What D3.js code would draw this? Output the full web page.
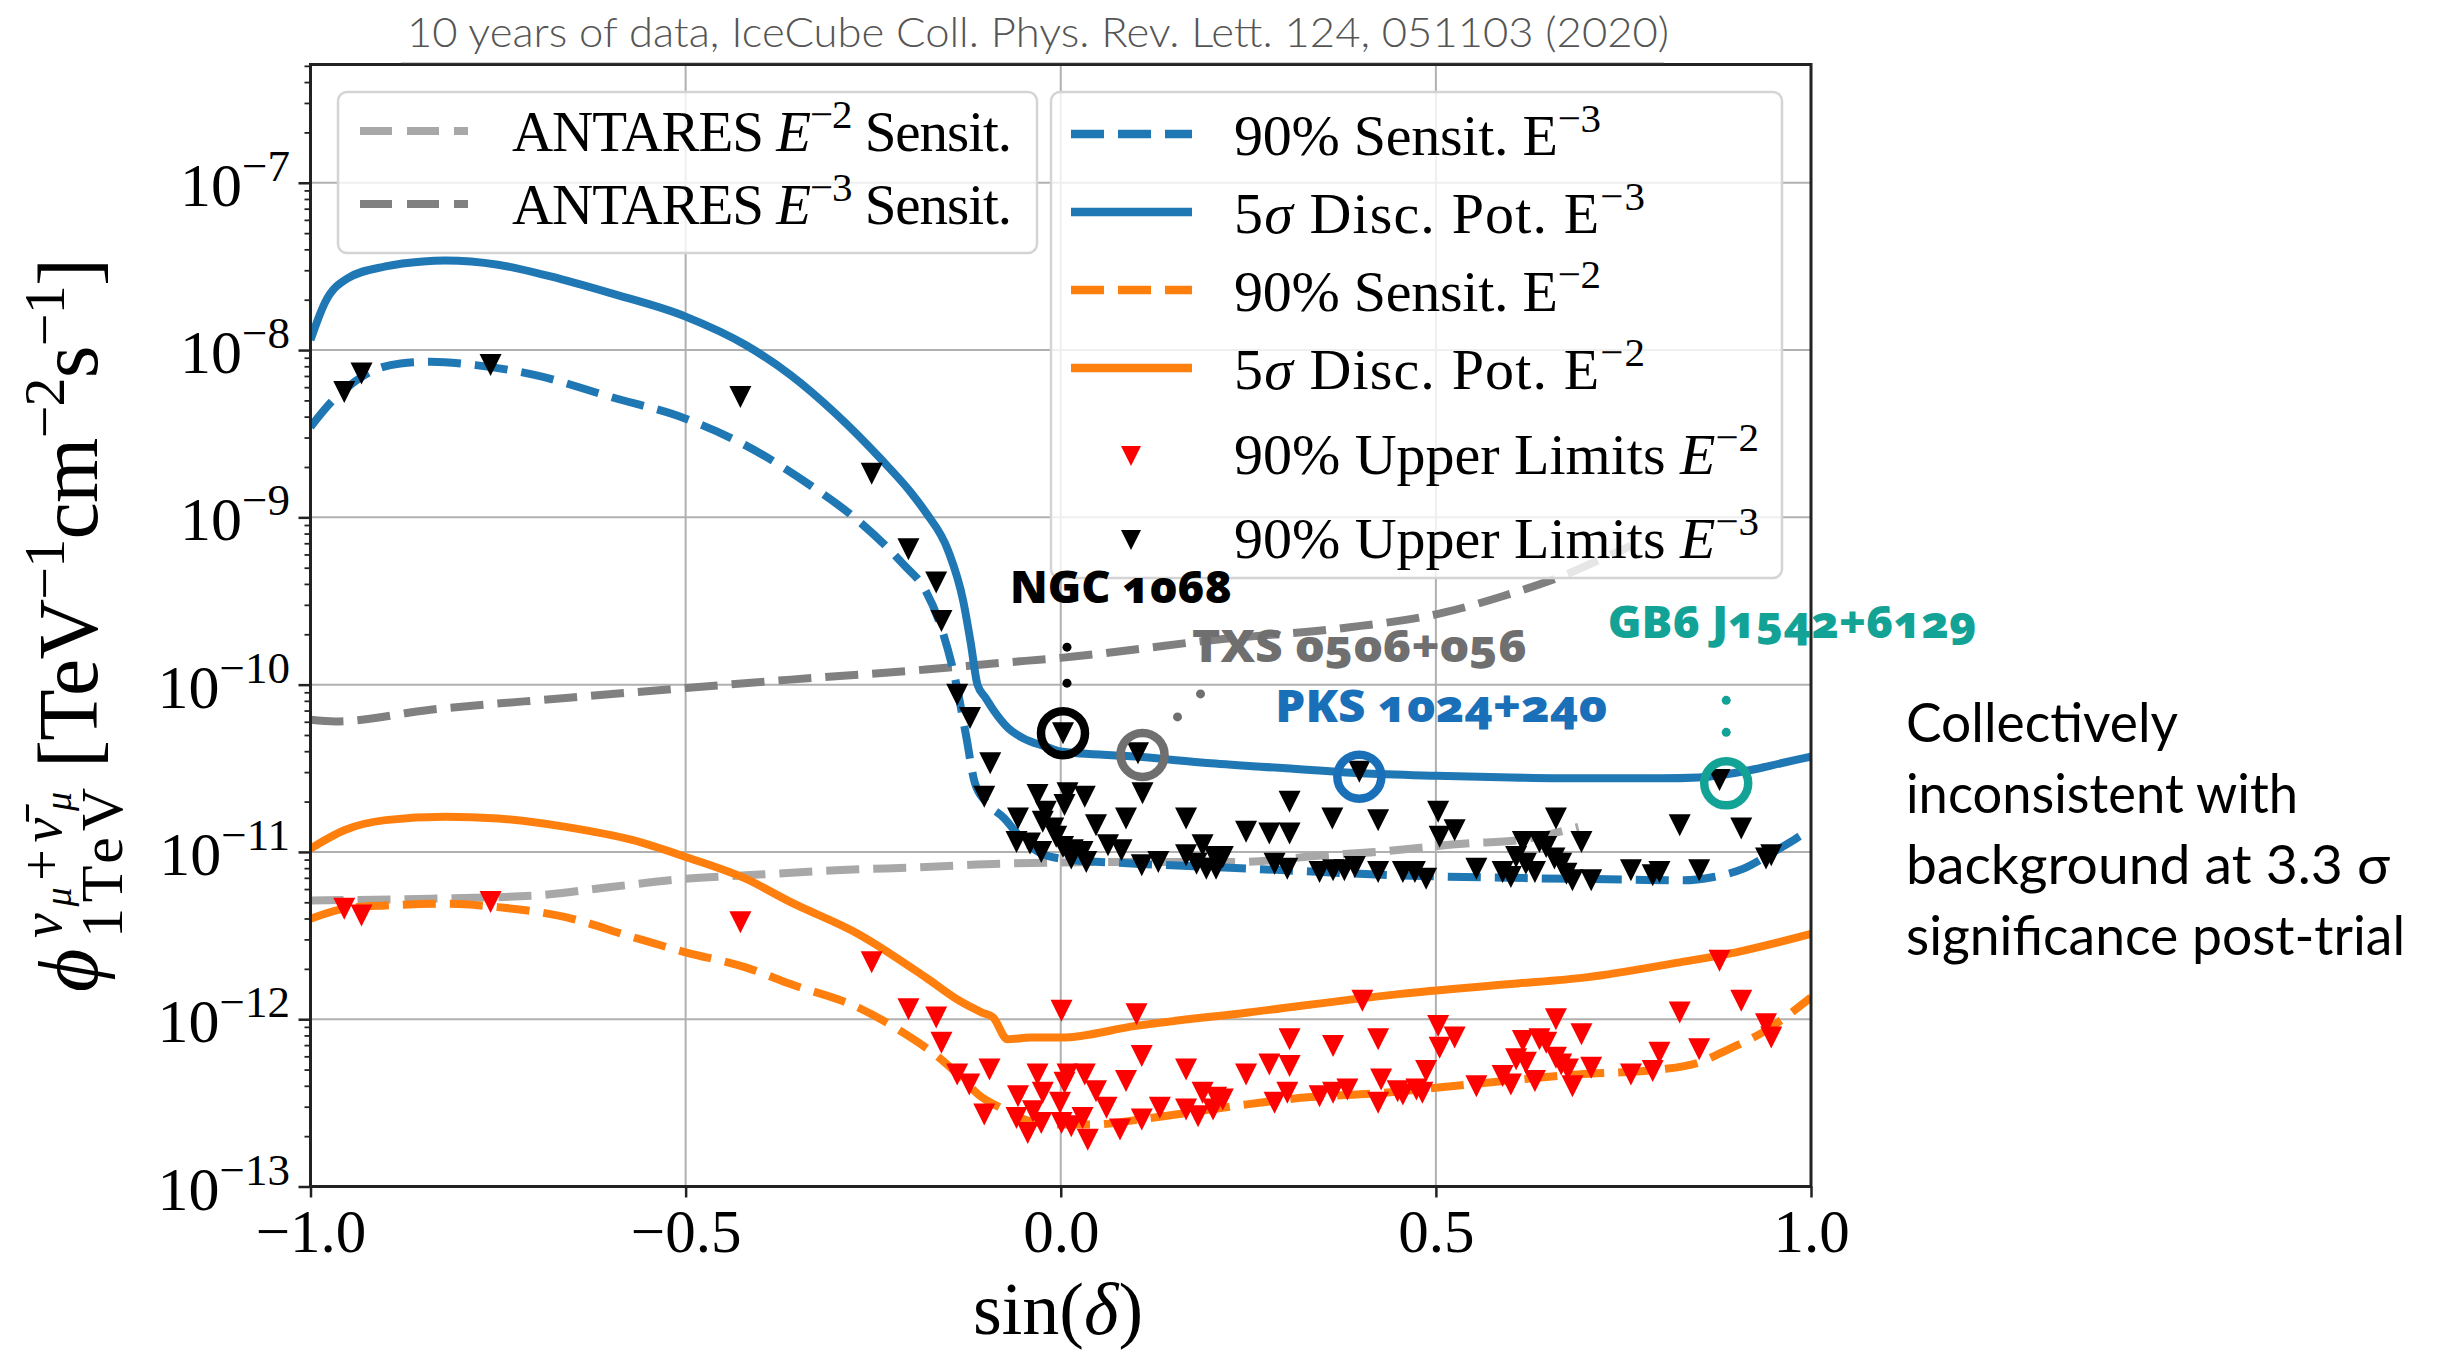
<!DOCTYPE html>
<html><head><meta charset="utf-8">
<script src="https://cdn.jsdelivr.net/npm/d3@7"></script>
<style>body{margin:0;background:#fff;} svg{display:block;}</style>
</head><body>
<svg id="chart" width="2438" height="1354"></svg>
<script>
// ---------------- DATA (flux given as log10 values) ----------------
const xTicks = [-1.0, -0.5, 0.0, 0.5, 1.0];
const yTickExps = [-13, -12, -11, -10, -9, -8, -7];

// 5 sigma discovery potential E^-3 (blue solid)
const disc3Sin = [-1.0,-0.98,-0.95,-0.90,-0.85,-0.82,-0.75,-0.68,-0.60,-0.50,-0.42,-0.36,-0.30,-0.24,-0.20,-0.18,-0.15,-0.13,-0.12,-0.111,-0.10,-0.09,-0.07,-0.05,-0.02,0.0,0.1,0.2,0.3,0.4,0.5,0.6,0.7,0.8,0.85,0.88,0.92,0.96,1.0];
const disc3Log = [-7.94,-7.71,-7.57,-7.50,-7.47,-7.465,-7.49,-7.56,-7.66,-7.80,-7.97,-8.15,-8.38,-8.65,-8.85,-8.97,-9.20,-9.50,-9.75,-10.0,-10.08,-10.15,-10.26,-10.32,-10.37,-10.40,-10.43,-10.47,-10.50,-10.53,-10.545,-10.555,-10.56,-10.56,-10.555,-10.54,-10.51,-10.47,-10.43];
// 90% sensitivity E^-3 (blue dashed)
const sens3Sin = [-1.0,-0.97,-0.95,-0.92,-0.88,-0.84,-0.78,-0.70,-0.60,-0.50,-0.42,-0.33,-0.27,-0.21,-0.18,-0.16,-0.14,-0.126,-0.115,-0.10,-0.075,-0.06,-0.03,0.0,0.1,0.2,0.3,0.45,0.6,0.75,0.83,0.87,0.91,0.95,0.98,1.0];
const sens3Log = [-8.46,-8.30,-8.22,-8.13,-8.08,-8.07,-8.09,-8.15,-8.28,-8.41,-8.57,-8.82,-9.02,-9.28,-9.44,-9.65,-9.98,-10.31,-10.58,-10.70,-10.80,-10.88,-11.0,-11.04,-11.07,-11.09,-11.11,-11.14,-11.155,-11.165,-11.17,-11.15,-11.10,-11.0,-10.92,-10.86];
// 5 sigma discovery potential E^-2 (orange solid)
const disc2Sin = [-1.0,-0.955,-0.90,-0.82,-0.75,-0.66,-0.57,-0.50,-0.42,-0.36,-0.27,-0.18,-0.135,-0.105,-0.09,-0.071,-0.04,0.0,0.1,0.25,0.45,0.6,0.7,0.825,0.9,1.0];
const disc2Log = [-10.98,-10.87,-10.81,-10.79,-10.80,-10.85,-10.93,-11.03,-11.16,-11.30,-11.49,-11.75,-11.89,-11.96,-11.99,-12.12,-12.11,-12.11,-12.04,-11.96,-11.85,-11.79,-11.75,-11.66,-11.60,-11.49];
// 90% sensitivity E^-2 (orange dashed)
const sens2Sin = [-1.0,-0.955,-0.90,-0.82,-0.75,-0.66,-0.57,-0.50,-0.42,-0.36,-0.27,-0.21,-0.165,-0.13,-0.11,-0.08,-0.04,0.0,0.04,0.12,0.23,0.32,0.43,0.5,0.69,0.80,0.85,0.89,0.935,1.0];
const sens2Log = [-11.40,-11.34,-11.32,-11.31,-11.33,-11.39,-11.51,-11.60,-11.69,-11.79,-11.93,-12.08,-12.22,-12.36,-12.45,-12.53,-12.61,-12.63,-12.63,-12.59,-12.52,-12.47,-12.44,-12.41,-12.33,-12.30,-12.26,-12.18,-12.08,-11.87];
// ANTARES E^-2 sensitivity (light grey dashed)
const ant2Sin = [-1.0,-0.84,-0.70,-0.60,-0.50,-0.42,-0.30,-0.18,-0.08,0.10,0.24,0.35,0.42,0.54,0.61,0.69];
const ant2Log = [-11.29,-11.28,-11.26,-11.21,-11.16,-11.14,-11.11,-11.09,-11.07,-11.06,-11.06,-11.02,-11.0,-10.95,-10.93,-10.85];
// ANTARES E^-3 sensitivity (dark grey dashed)
const ant3Sin = [-1.0,-0.967,-0.84,-0.66,-0.50,-0.36,-0.18,-0.08,0.0,0.21,0.38,0.51,0.59,0.68,0.72,0.76];
const ant3Log = [-10.21,-10.22,-10.15,-10.08,-10.02,-9.97,-9.91,-9.87,-9.84,-9.73,-9.66,-9.57,-9.47,-9.33,-9.25,-9.17];

// 90% upper limits E^-3 (black triangles): [sin(dec), log10 flux]
const ul3 = [
 [-0.955,-8.25],[-0.932,-8.14],[-0.760,-8.09],[-0.427,-8.28],[-0.252,-8.74],[-0.203,-9.19],[-0.166,-9.39],[-0.159,-9.62],
 [-0.138,-10.06],[-0.121,-10.20],[-0.094,-10.47],[-0.102,-10.67],
 [-0.057,-10.80],[-0.031,-10.66],[0.009,-10.65],[0.032,-10.67],[0.005,-10.72],[-0.024,-10.82],[0.047,-10.84],[0.087,-10.80],
 [0.109,-10.65],[0.167,-10.80],[0.305,-10.70],[0.362,-10.80],[0.423,-10.81],[0.247,-10.88],[0.278,-10.89],[0.305,-10.89],
 [-0.059,-10.94],[-0.041,-10.95],[-0.026,-11.0],[-0.006,-10.91],[0.003,-10.97],[0.016,-10.99],[0.029,-11.0],[0.014,-11.04],
 [0.034,-11.06],[0.063,-10.96],[0.081,-10.99],[0.108,-11.08],[0.13,-11.06],[0.167,-11.02],[0.189,-10.96],[0.181,-11.07],
 [0.194,-11.10],[0.205,-11.03],[0.216,-11.03],[0.207,-11.10],[0.285,-11.07],[0.302,-11.10],[0.345,-11.12],[0.363,-11.11],
 [0.378,-11.11],[0.392,-11.09],[0.423,-11.12],[0.398,-10.52],[0.003,-10.29],[0.103,-10.41],[-0.02,-10.76],[-0.01,-10.86],
 [0.503,-10.76],[0.505,-10.91],[0.525,-10.87],[0.456,-11.12],[0.472,-11.12],[0.487,-11.16],[0.554,-11.10],[0.589,-11.12],
 [0.600,-11.15],[0.607,-11.03],[0.616,-10.94],[0.620,-11.07],[0.632,-11.12],[0.638,-10.94],[0.647,-10.97],[0.660,-10.80],
 [0.658,-11.04],[0.667,-11.07],[0.674,-11.13],[0.682,-11.17],[0.694,-10.94],[0.707,-11.17],[0.760,-11.11],[0.789,-11.14],
 [0.798,-11.12],[0.825,-10.84],[0.851,-11.11],[0.878,-10.57],[0.907,-10.86],[0.940,-11.04],[0.947,-11.02]
];
// 90% upper limits E^-2 (red triangles)
const ul2 = [
 [-0.955,-11.34],[-0.932,-11.38],[-0.760,-11.30],[-0.427,-11.42],[-0.252,-11.66],[-0.203,-11.94],[-0.166,-11.99],[-0.159,-12.14],
 [-0.138,-12.33],[-0.122,-12.39],[-0.095,-12.30],[-0.102,-12.57],
 [-0.057,-12.46],[-0.059,-12.59],[-0.044,-12.68],[-0.031,-12.33],[-0.037,-12.55],[-0.024,-12.44],[-0.026,-12.62],[0.001,-11.95],
 [-0.001,-12.50],[0.001,-12.62],[0.009,-12.33],[0.005,-12.38],[0.014,-12.64],[0.032,-12.33],[0.029,-12.59],[0.036,-12.72],
 [0.047,-12.43],[0.061,-12.53],[0.079,-12.66],[0.087,-12.37],[0.101,-11.97],[0.108,-12.22],[0.108,-12.60],[0.132,-12.53],
 [0.167,-12.30],[0.167,-12.54],[0.183,-12.58],[0.189,-12.44],[0.203,-12.54],[0.207,-12.47],[0.216,-12.48],[0.247,-12.33],
 [0.278,-12.27],[0.305,-12.12],[0.305,-12.28],[0.285,-12.50],[0.302,-12.44],[0.345,-12.46],[0.363,-12.16],[0.363,-12.44],
 [0.382,-12.42],[0.402,-11.89],[0.423,-12.12],[0.427,-12.36],[0.423,-12.50],[0.449,-12.43],
 [0.503,-12.04],[0.505,-12.17],[0.525,-12.11],[0.487,-12.31],[0.456,-12.45],[0.474,-12.42],[0.482,-12.44],[0.554,-12.40],
 [0.589,-12.34],[0.600,-12.39],[0.607,-12.24],[0.616,-12.13],[0.620,-12.26],[0.632,-12.37],[0.638,-12.12],[0.647,-12.14],
 [0.660,-12.00],[0.660,-12.23],[0.667,-12.27],[0.676,-12.30],[0.682,-12.40],[0.694,-12.09],[0.707,-12.29],[0.760,-12.33],
 [0.789,-12.31],[0.798,-12.20],[0.825,-11.96],[0.851,-12.18],[0.878,-11.65],[0.907,-11.89],[0.940,-12.03],[0.947,-12.11]
];

// highlighted sources
const srcNames = ["NGC 1068", "TXS 0506+056", "PKS 1024+240", "GB6 J1542+6129"];
const srcSin = [0.003, 0.109, 0.398, 0.887];
const srcLog = [-10.29, -10.42, -10.55, -10.59];
const srcColors = ["#000000", "#6f6f6f", "#1a70b8", "#13a396"];

const titleText = "10 years of data, IceCube Coll. Phys. Rev. Lett. 124, 051103 (2020)";
const noteLines = ["Collectively", "inconsistent with", "background at 3.3 σ", "significance post-trial"];

// ---------------- DRAWING ----------------
const svg = d3.select('#chart');
const serif = "'Liberation Serif','DejaVu Serif',serif";
const P = {left: 310.5, right: 1811, top: 64.5, bottom: 1186.5};
const x = d3.scaleLinear().domain([-1, 1]).range([P.left, P.right]);
const y = d3.scaleLog().domain([1e-13, Math.pow(10, -6.293)]).range([P.bottom, P.top]);
const Y = v => y(Math.pow(10, v));

svg.append('rect').attr('width', 2438).attr('height', 1354).attr('fill', '#fff');

// grid
const grid = svg.append('g');
grid.selectAll('line.gy').data(yTickExps.filter(e => e > -13)).join('line')
  .attr('x1', P.left).attr('x2', P.right).attr('y1', d => Y(d)).attr('y2', d => Y(d))
  .attr('stroke', '#b0b0b0').attr('stroke-width', 2);
grid.selectAll('line.gx').data(xTicks.filter(t => t > -1 && t < 1)).join('line')
  .attr('y1', P.top).attr('y2', P.bottom).attr('x1', d => x(d)).attr('x2', d => x(d))
  .attr('stroke', '#b0b0b0').attr('stroke-width', 2);

// clip
svg.append('clipPath').attr('id', 'clip').append('rect')
  .attr('x', P.left).attr('y', P.top).attr('width', P.right - P.left).attr('height', P.bottom - P.top);

const lineGen = d3.line().x(d => x(d[0])).y(d => Y(d[1])).curve(d3.curveMonotoneX);
const zip = (a, b) => a.map((v, i) => [v, b[i]]);
const series = [
  {pts: zip(ant2Sin, ant2Log), color: '#a8a8a8', dash: '33,14'},
  {pts: zip(ant3Sin, ant3Log), color: '#808080', dash: '33,14'},
  {pts: zip(sens3Sin, sens3Log), color: '#1f77b4', dash: '33,14'},
  {pts: zip(disc3Sin, disc3Log), color: '#1f77b4', dash: null},
  {pts: zip(sens2Sin, sens2Log), color: '#ff7f0e', dash: '33,14'},
  {pts: zip(disc2Sin, disc2Log), color: '#ff7f0e', dash: null}
];
const lines = svg.append('g').attr('clip-path', 'url(#clip)');
lines.selectAll('path').data(series).join('path')
  .attr('d', d => lineGen(d.pts)).attr('fill', 'none')
  .attr('stroke', d => d.color).attr('stroke-width', 8)
  .attr('stroke-dasharray', d => d.dash);

// triangles (matplotlib 'v')
const tri = h => `M${-h},${-h}L${h},${-h}L0,${h}Z`;
const marks = svg.append('g');
marks.selectAll('path.r').data(ul2).join('path')
  .attr('d', tri(11)).attr('fill', '#ff0000')
  .attr('transform', d => `translate(${x(d[0])},${Y(d[1])})`);
marks.selectAll('path.b').data(ul3).join('path')
  .attr('d', tri(11)).attr('fill', '#000')
  .attr('transform', d => `translate(${x(d[0])},${Y(d[1])})`);

// frame
svg.append('rect').attr('x', P.left).attr('y', P.top).attr('width', P.right - P.left).attr('height', P.bottom - P.top)
  .attr('fill', 'none').attr('stroke', '#222').attr('stroke-width', 3);

// axes ticks
const xAxis = svg.append('g').attr('transform', `translate(0,${P.bottom})`)
  .call(d3.axisBottom(x).tickValues(xTicks).tickSize(11).tickFormat(''));
xAxis.select('.domain').remove();
xAxis.selectAll('line').attr('stroke', '#222').attr('stroke-width', 2.5);
xAxis.selectAll('.tick').append('text')
  .attr('y', 65).attr('fill', '#000').attr('font-family', serif).attr('font-size', 61)
  .attr('text-anchor', 'middle').text(d => d3.format('.1f')(d));

const majors = yTickExps.map(e => Math.pow(10, e));
const minors = [];
yTickExps.forEach(e => { for (let k = 2; k <= 9; k++) { const v = k * Math.pow(10, e); if (v < Math.pow(10, -6.293)) minors.push(v); } });
const yAxisMaj = svg.append('g').attr('transform', `translate(${P.left},0)`)
  .call(d3.axisLeft(y).tickValues(majors).tickSize(12).tickFormat(''));
yAxisMaj.select('.domain').remove();
yAxisMaj.selectAll('line').attr('stroke', '#222').attr('stroke-width', 2.5);
const yAxisMin = svg.append('g').attr('transform', `translate(${P.left},0)`)
  .call(d3.axisLeft(y).tickValues(minors).tickSize(6).tickFormat(''));
yAxisMin.select('.domain').remove();
yAxisMin.selectAll('line').attr('stroke', '#222').attr('stroke-width', 1.8);

const yl = svg.append('g').selectAll('text').data(yTickExps).join('text')
  .attr('x', 290).attr('y', d => Y(d) + 23).attr('text-anchor', 'end')
  .attr('font-family', serif).attr('font-size', 62).attr('fill', '#000');
yl.append('tspan').text('10');
yl.append('tspan').attr('dy', -25).attr('font-size', 45).text(d => '−' + Math.abs(d));

// x label
svg.append('text').attr('x', 1058).attr('y', 1334).attr('text-anchor', 'middle')
  .attr('font-family', serif).attr('font-size', 74).attr('fill', '#000')
  .html('sin(<tspan font-style="italic">δ</tspan>)');

// y label (rotated)
const ylab = svg.append('g').attr('transform', 'translate(97,992) rotate(-90)')
  .attr('font-family', serif).attr('fill', '#000');
ylab.append('text').attr('x', 0).attr('y', 0).attr('font-size', 84).attr('font-style', 'italic').text('ϕ');
ylab.append('text').attr('x', 54).attr('y', -36).attr('font-size', 56)
  .attr('textLength', 146)
  .html('<tspan font-style="italic">ν</tspan><tspan font-size="38" dy="10" font-style="italic">μ</tspan><tspan dy="-10">+</tspan><tspan font-style="italic">ν̄</tspan><tspan font-size="38" dy="10" font-style="italic">μ</tspan>');
ylab.append('text').attr('x', 54).attr('y', 25).attr('font-size', 60).attr('textLength', 150).text('1TeV');
ylab.append('text').attr('x', 224).attr('y', 0).attr('font-size', 84).attr('textLength', 510)
  .html('[TeV<tspan font-size="58" dy="-33">−1</tspan><tspan dy="33">cm</tspan><tspan font-size="58" dy="-33">−2</tspan><tspan dy="33">s</tspan><tspan font-size="58" dy="-33">−1</tspan><tspan dy="33">]</tspan>');

// legends
function legendBox(x0, y0, w, h) {
  svg.append('rect').attr('x', x0).attr('y', y0).attr('width', w).attr('height', h).attr('rx', 9)
    .attr('fill', '#fff').attr('fill-opacity', 0.8).attr('stroke', '#d4d4d4').attr('stroke-width', 2.5);
}
legendBox(338, 92, 699, 161);
legendBox(1051, 92, 731, 486);

const leftEntries = [
  {color: '#a8a8a8', y: 131, base: 151, exp: '−2'},
  {color: '#808080', y: 204, base: 224, exp: '−3'}
];
leftEntries.forEach(e => {
  svg.append('line').attr('x1', 360).attr('x2', 468).attr('y1', e.y).attr('y2', e.y)
    .attr('stroke', e.color).attr('stroke-width', 8).attr('stroke-dasharray', '32,15');
  svg.append('text').attr('x', 512).attr('y', e.base).attr('font-family', serif).attr('font-size', 57)
    .attr('textLength', 500).attr('fill', '#000')
    .html(`ANTARES <tspan font-style="italic">E</tspan><tspan font-size="41" dy="-23">${e.exp}</tspan><tspan dy="23"> Sensit.</tspan>`);
});

const rightEntries = [
  {type: 'line', color: '#1f77b4', dash: '33,14', y: 134, base: 155, w: 367, html: '90% Sensit. E<tspan font-size="41" dy="-23">−3</tspan>'},
  {type: 'line', color: '#1f77b4', dash: null, y: 212, base: 233, w: 411, html: '5<tspan font-style="italic">σ</tspan> Disc. Pot. E<tspan font-size="41" dy="-23">−3</tspan>'},
  {type: 'line', color: '#ff7f0e', dash: '33,14', y: 290, base: 311, w: 367, html: '90% Sensit. E<tspan font-size="41" dy="-23">−2</tspan>'},
  {type: 'line', color: '#ff7f0e', dash: null, y: 368, base: 389, w: 411, html: '5<tspan font-style="italic">σ</tspan> Disc. Pot. E<tspan font-size="41" dy="-23">−2</tspan>'},
  {type: 'mark', color: '#ff0000', y: 456, base: 474, w: 525, html: '90% Upper Limits <tspan font-style="italic">E</tspan><tspan font-size="41" dy="-23">−2</tspan>'},
  {type: 'mark', color: '#000000', y: 540, base: 558, w: 525, html: '90% Upper Limits <tspan font-style="italic">E</tspan><tspan font-size="41" dy="-23">−3</tspan>'}
];
rightEntries.forEach(e => {
  if (e.type === 'line') {
    svg.append('line').attr('x1', 1071).attr('x2', 1192).attr('y1', e.y).attr('y2', e.y)
      .attr('stroke', e.color).attr('stroke-width', 8.5).attr('stroke-dasharray', e.dash);
  } else {
    svg.append('path').attr('d', tri(10)).attr('fill', e.color).attr('transform', `translate(1131,${e.y})`);
  }
  svg.append('text').attr('x', 1234).attr('y', e.base).attr('font-family', serif).attr('font-size', 58)
    .attr('textLength', e.w).attr('fill', '#000').html(e.html);
});

// annotations: circles, leader dots and labels for the highlighted sources
const annLabel = [ {dx: 58, dy: -130, w: 222}, {dx: 217, dy: -93, w: 335}, {dx: 82, dy: -55, w: 332}, {dx: 66, dy: -145, w: 369} ];
const annDots = [ [[4, -86], [4, -50]], [[35, -38], [58, -61]], [], [[0, -83], [0, -51]] ];
const ann = svg.append('g');
srcNames.forEach((name, i) => {
  const cx = x(srcSin[i]), cy = Y(srcLog[i]);
  ann.append('circle').attr('cx', cx).attr('cy', cy).attr('r', 22)
    .attr('fill', 'none').attr('stroke', srcColors[i]).attr('stroke-width', 8.5);
  annDots[i].forEach(p => ann.append('circle').attr('cx', cx + p[0]).attr('cy', cy + p[1]).attr('r', 4.5).attr('fill', srcColors[i]));
  ann.append('text').attr('x', cx + annLabel[i].dx).attr('y', cy + annLabel[i].dy)
    .attr('text-anchor', 'middle').attr('font-family', "'Open Sans','Noto Sans',sans-serif")
    .attr('font-weight', 800).attr('font-size', 44).attr('fill', srcColors[i])
    .attr('textLength', annLabel[i].w).attr('lengthAdjust', 'spacingAndGlyphs')
    .style('font-variant-numeric', 'oldstyle-nums').text(name);
});

// title with white background covering the frame top
svg.append('rect').attr('x', 401).attr('y', 0).attr('width', 1263).attr('height', 63).attr('fill', '#fff');
svg.append('line').attr('x1', 401).attr('x2', 1664).attr('y1', 63.5).attr('y2', 63.5).attr('stroke', '#333').attr('stroke-width', 1.5);
svg.append('text').attr('x', 1038).attr('y', 47).attr('text-anchor', 'middle')
  .attr('font-family', "Lato,'Open Sans',sans-serif").attr('font-weight', 300).attr('font-size', 42)
  .attr('fill', '#555').attr('textLength', 1262).attr('lengthAdjust', 'spacingAndGlyphs').text(titleText);

// side note
const noteW = [272, 392, 484, 499];
svg.append('g').selectAll('text').data(noteLines).join('text')
  .attr('x', 1906).attr('y', (d, i) => 742 + i * 71)
  .attr('font-family', "Lato,'Open Sans',sans-serif").attr('font-size', 54).attr('fill', '#000')
  .attr('textLength', (d, i) => noteW[i]).attr('lengthAdjust', 'spacingAndGlyphs').text(d => d);
</script>
</body></html>
